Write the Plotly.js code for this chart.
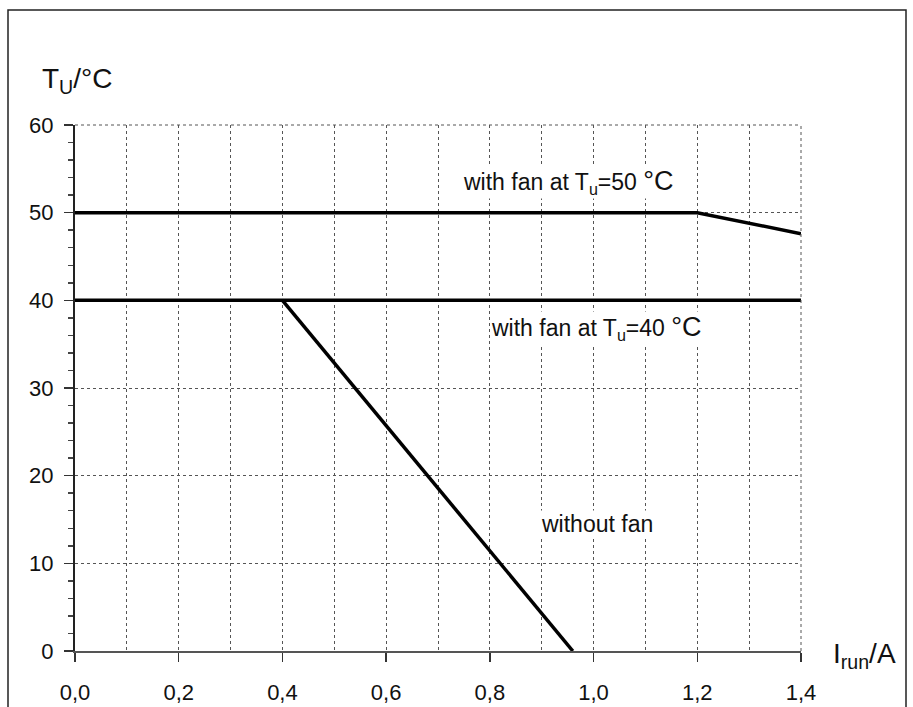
<!DOCTYPE html>
<html>
<head>
<meta charset="utf-8">
<script src="https://cdn.plot.ly/plotly-3.0.1.min.js"></script>
<style>html,body{margin:0;padding:0;background:#fff;}</style>
</head>
<body>
<div id="chart" style="width:913px;height:707px;"></div>
<script>
// Data
const fan50X = [0.0, 1.2, 1.4];
const fan50Y = [50, 50, 47.6];
const fan40X = [0.0, 1.4];
const fan40Y = [40, 40];
const noFanX = [0.4, 0.96];
const noFanY = [40, 0];
const xTicks = [0, 0.2, 0.4, 0.6, 0.8, 1.0, 1.2, 1.4];
const yTicks = [0, 10, 20, 30, 40, 50, 60];
const labels = [
  {text: 'with fan at T<sub>u</sub>=50 <span style="font-size:27px">°C</span>', x: 0.951, y: 53.5},
  {text: 'with fan at T<sub>u</sub>=40 <span style="font-size:27px">°C</span>', x: 1.005, y: 36.8},
  {text: 'without fan', x: 1.007, y: 14.5}
];

const L = 75, R = 801, T = 125, B = 651;
const px = v => (v - L) / (R - L);
const py = v => (B - v) / (B - T);

const lineStyle = {color: '#000', width: 3.5};
const traces = [
  {x: fan50X, y: fan50Y, mode: 'lines', line: lineStyle, name: 'with fan 50'},
  {x: fan40X, y: fan40Y, mode: 'lines', line: lineStyle, name: 'with fan 40'},
  {x: noFanX, y: noFanY, mode: 'lines', line: lineStyle, name: 'without fan'}
];

const font = {family: 'Liberation Sans, Arial, sans-serif', color: '#111'};

const layout = {
  width: 913, height: 707,
  margin: {l: L, r: 913 - R, t: T, b: 707 - B, pad: 0},
  paper_bgcolor: '#fff', plot_bgcolor: '#fff',
  showlegend: false,
  separators: ',.',
  font: Object.assign({size: 22}, font),
  xaxis: {
    range: [0, 1.4], tickvals: xTicks, tickformat: '.1f',
    ticks: 'outside', ticklen: 9, tickwidth: 1.5, tickcolor: '#333',
    showline: true, linecolor: '#555', linewidth: 1.5,
    showgrid: true, gridcolor: '#555', griddash: 'dot', gridwidth: 1,
    minor: {dtick: 0.1, tick0: 0, showgrid: true, gridcolor: '#555', griddash: 'dot', gridwidth: 1, ticks: ''},
    zeroline: false, ticklabelstandoff: 12,
    tickfont: Object.assign({size: 22}, font)
  },
  yaxis: {
    range: [0, 60], tickvals: yTicks,
    ticks: 'outside', ticklen: 9, tickwidth: 1.5, tickcolor: '#333',
    showline: true, linecolor: '#222', linewidth: 2,
    showgrid: true, gridcolor: '#555', griddash: 'dot', gridwidth: 1,
    minor: {dtick: 2, tick0: 0, ticks: 'outside', ticklen: 5, tickwidth: 1.5, tickcolor: '#444', showgrid: false},
    zeroline: false, ticklabelstandoff: 6,
    tickfont: Object.assign({size: 22}, font)
  },
  shapes: [
    {type: 'line', xref: 'paper', yref: 'paper', x0: 1, x1: 1, y0: 0, y1: 1,
     line: {color: '#555', width: 1, dash: 'dot'}},
    {type: 'line', xref: 'paper', yref: 'paper', x0: 0, x1: 1, y0: 1, y1: 1,
     line: {color: '#555', width: 1, dash: 'dot'}},
    {type: 'rect', xref: 'paper', yref: 'paper', x0: px(8), x1: px(906), y0: py(10), y1: py(720),
     line: {color: '#222', width: 1.5}, fillcolor: 'rgba(0,0,0,0)', layer: 'above'}
  ],
  annotations: [
    {text: 'T<sub>U</sub>/°C', xref: 'paper', yref: 'paper', x: px(40), y: py(80),
     xanchor: 'left', yanchor: 'middle', showarrow: false, font: Object.assign({size: 28}, font)},
    {text: 'I<sub>run</sub>/A', xref: 'paper', yref: 'paper', x: px(831), y: py(655),
     xanchor: 'left', yanchor: 'middle', showarrow: false, font: Object.assign({size: 28}, font)}
  ].concat(labels.map(a => ({
    text: a.text, x: a.x, y: a.y, xref: 'x', yref: 'y', showarrow: false,
    xanchor: 'center', yanchor: 'middle', bgcolor: '#fff', borderpad: 0,
    font: Object.assign({size: 23}, font)
  })))
};

Plotly.newPlot('chart', traces, layout, {displayModeBar: false, staticPlot: true});
</script>
</body>
</html>
